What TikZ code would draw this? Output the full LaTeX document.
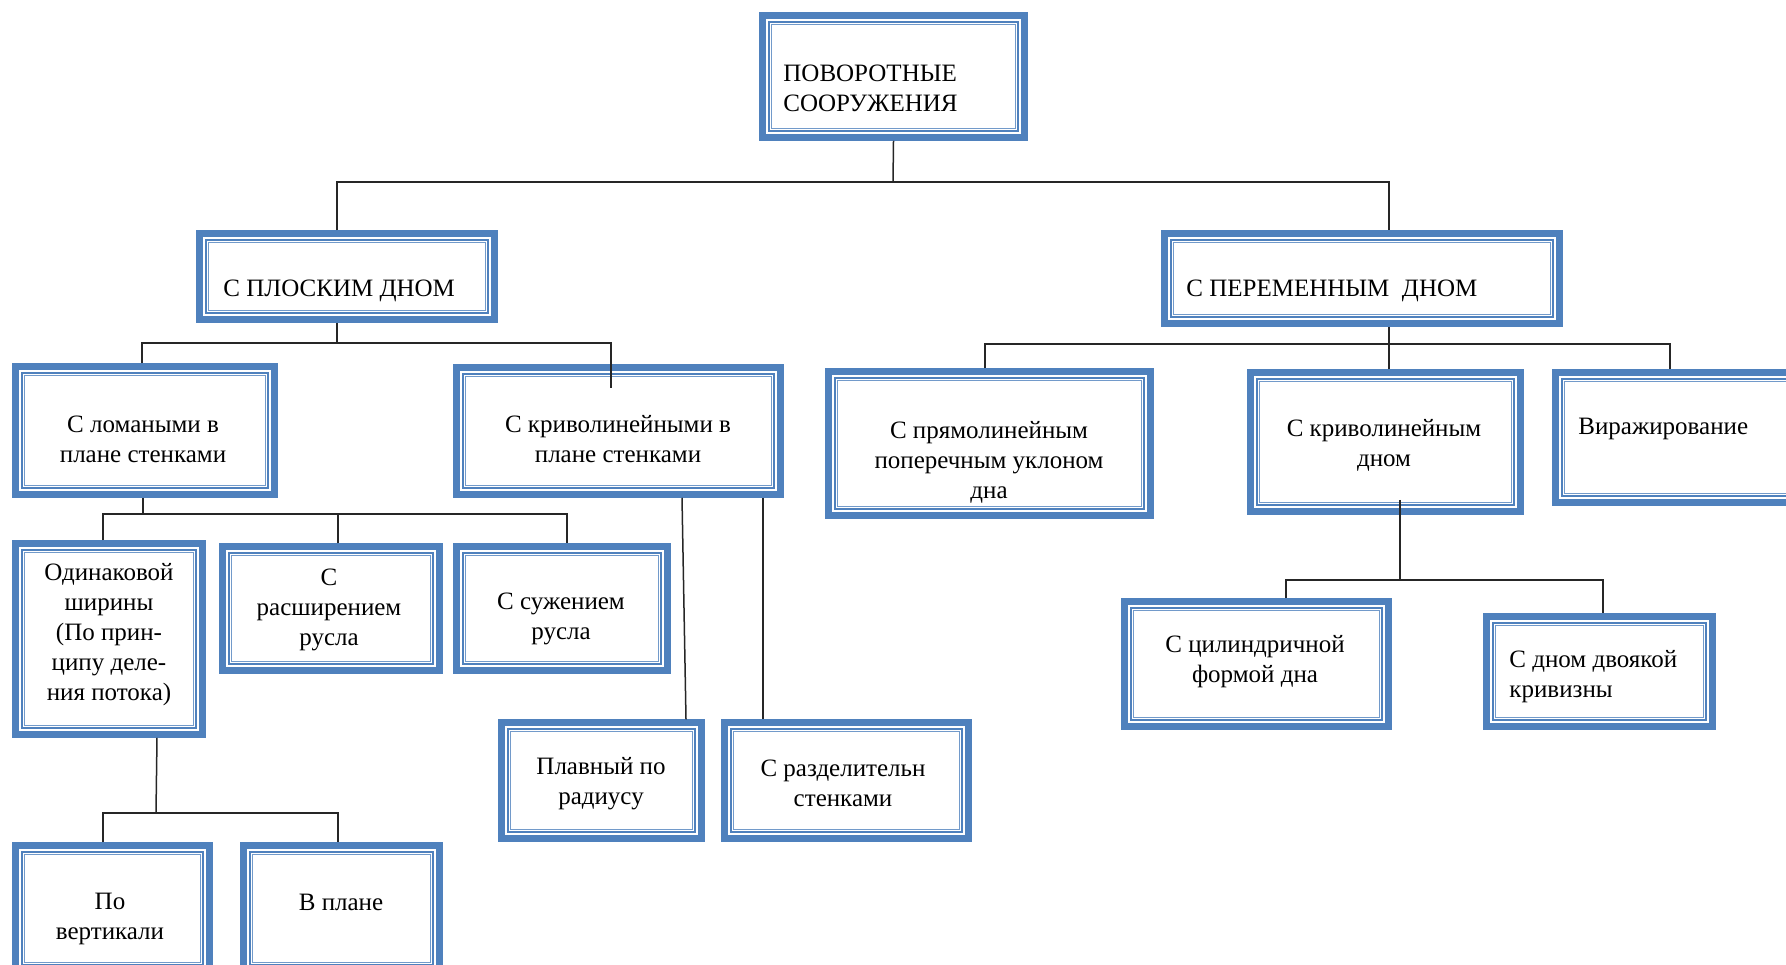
\documentclass[tikz,border=0pt]{standalone}
\usepackage{fontspec}
\setmainfont{Liberation Serif}
\usepackage{xcolor}
\usepackage{tikz}
\definecolor{boxblue}{HTML}{4F81BD}

\begin{document}
\begin{tikzpicture}[x=0.5pt, y=-0.5pt,
        box/.style 2 args={draw=boxblue, line width=3.25pt, inner sep=0pt,
            minimum width=#1pt, minimum height=#2pt,
            append after command={\pgfextra{
                \draw[boxblue, line width=0.75pt]
                    ([shift={(4.85pt,-4.85pt)}]\tikzlastnode.north west) rectangle
                    ([shift={(-4.85pt,4.85pt)}]\tikzlastnode.south east);
                \draw[boxblue!80, line width=0.5pt]
                    ([shift={(6.25pt,-6.25pt)}]\tikzlastnode.north west) rectangle
                    ([shift={(-6.25pt,6.25pt)}]\tikzlastnode.south east);}}},
        txt/.style={font=\fontsize{12.5}{15}\selectfont, inner sep=0pt, align=center},
        link/.style={draw=black!85, line width=0.75pt}]
        \useasboundingbox (0,0) rectangle (1786,964);
        \clip (0,0) rectangle (1786,964);

        % boxes
        \node[box={131}{61}]     (root)    at (893.5,76.5) {};
        \node[box={147.5}{43}]   (plosky)  at (347,276.5) {};
        \node[box={197.5}{45}]   (peremen) at (1362,278.5) {};
        \node[box={129.5}{64}]   (lomany)  at (145,430.5) {};
        \node[box={162}{63.5}]   (krivol)  at (618.5,431) {};
        \node[box={161}{72}]     (pryam)   at (989.5,443.5) {};
        \node[box={135}{69.5}]   (krivdno) at (1385.5,442) {};
        \node[box={120.5}{65}]   (virazh)  at (1676,437.5) {};
        \node[box={93.5}{95.5}]  (odinak)  at (109,639) {};
        \node[box={108.5}{62}]   (rasshir) at (331,608.5) {};
        \node[box={105.5}{62}]   (suzh)    at (562,608.5) {};
        \node[box={100}{58}]     (plavny)  at (601.5,780.5) {};
        \node[box={122}{58}]     (razdel)  at (846.5,780.5) {};
        \node[box={132}{62.5}]   (cilindr) at (1256.5,664) {};
        \node[box={113}{55}]     (dvoyak)  at (1599.5,671.5) {};
        \node[box={97}{63}]      (povert)  at (112.5,908.5) {};
        \node[box={98}{63}]      (vplane)  at (341.5,908.5) {};

        % texts
        \node[txt, anchor=west, align=left] (t-root) at (783,88) {ПОВОРОТНЫЕ\\СООРУЖЕНИЯ};
        \node[txt, anchor=west] (t-plosky)  at (223,291) {С ПЛОСКИМ ДНОМ};
        \node[txt, anchor=west] (t-peremen) at (1186,291) {С ПЕРЕМЕННЫМ\ \ ДНОМ};
        \node[txt] (t-lomany)  at (143,439.5) {С ломаными в\\плане стенками};
        \node[txt] (t-krivol)  at (618,439.5) {С криволинейными в\\плане стенками};
        \node[txt] (t-pryam)   at (989,462) {С прямолинейным\\поперечным уклоном\\дна};
        \node[txt] (t-krivdno) at (1384,445) {С криволинейным\\дном};
        \node[txt, anchor=west] (t-virazh) at (1578,429) {Виражирование};
        \node[txt] (t-odinak)  at (109,635) {Одинаковой\\ширины\\(По прин-\\ципу деле-\\ния потока)};
        \node[txt] (t-rasshir) at (329,610) {С\\расширением\\русла};
        \node[txt] (t-suzh)    at (561,619) {С сужением\\русла};
        \node[txt] (t-plavny)  at (601,783.5) {Плавный по\\радиусу};
        \node[txt] (t-razdel)  at (843,783.5) {С разделительн\\стенками};
        \node[txt] (t-cilindr) at (1255,662) {С цилиндричной\\формой дна};
        \node[txt, anchor=west, align=left] (t-dvoyak) at (1509,677) {С дном двоякой\\кривизны};
        \node[txt] (t-povert)  at (110,919) {По\\вертикали};
        \node[txt] (t-vplane)  at (341,902) {В плане};

        % connectors
        \draw[link] (root.south) -- (893,182);
        \draw[link] (plosky.north -| 337,0) -- (337,182) -- (1389,182) -- (peremen.north -| 1389,0);

        \draw[link] (plosky.south -| 337,0) -- (337,343);
        \draw[link] (lomany.north -| 142,0) -- (142,343) -- (611,343) -- (krivol.north -| 611,0) -- ++(0,24);

        \draw[link] (lomany.south -| 143,0) -- (143,514);
        \draw[link] (odinak.north -| 103,0) -- (103,514) -- (567,514) -- (suzh.north -| 567,0);
        \draw[link] (rasshir.north -| 338,0) -- (338,514);

        \draw[link] (krivol.south -| 682,0) -- (plavny.north -| 686,0);
        \draw[link] (krivol.south -| 763,0) -- (razdel.north -| 763,0);

        \draw[link] (odinak.south -| 157,0) -- (156,813);
        \draw[link] (povert.north -| 103,0) -- (103,813) -- (338,813) -- (vplane.north -| 338,0);

        \draw[link] (peremen.south -| 1389,0) -- (1389,344);
        \draw[link] (pryam.north -| 985,0) -- (985,344) -- (1670,344) -- (virazh.north -| 1670,0);
        \draw[link] (krivdno.north -| 1389,0) -- (1389,344);

        \draw[link] (krivdno.south -| 1400,0) ++(0,-15) -- (1400,580);
        \draw[link] (cilindr.north -| 1286,0) -- (1286,580) -- (1603,580) -- (dvoyak.north -| 1603,0);
    \end{tikzpicture}
\end{document}
